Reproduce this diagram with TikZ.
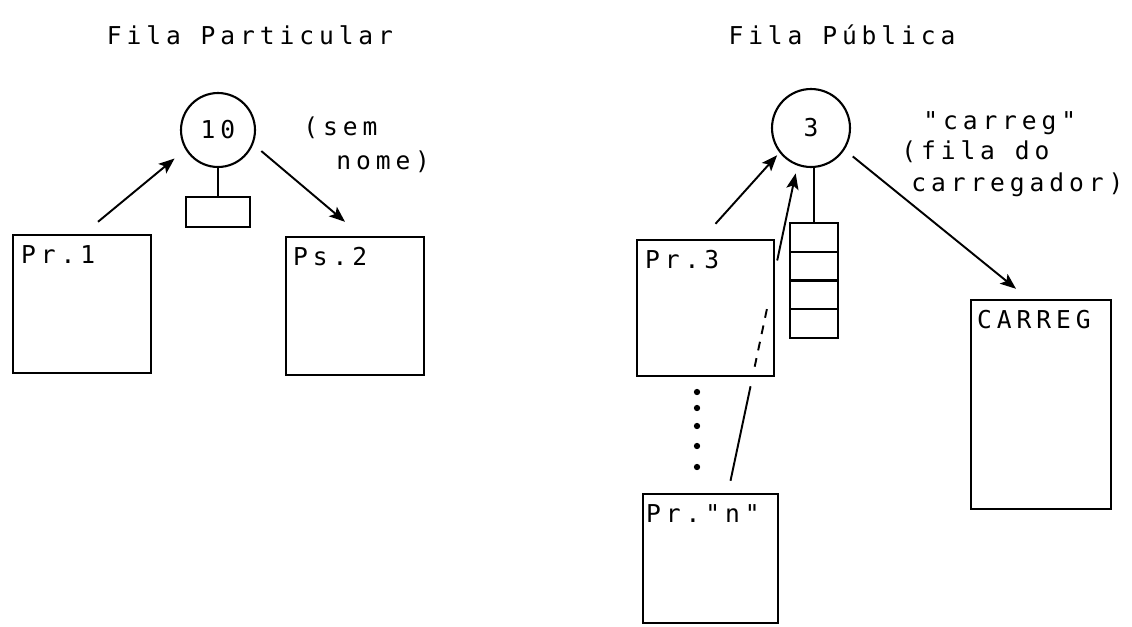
\documentclass[tikz,border=0pt]{standalone}
\usepackage{fontspec}
\newfontfamily\dotfont[LetterSpace=20]{DejaVu Sans Mono}
\usetikzlibrary{arrows.meta, positioning, calc}

\begin{document}
\begin{tikzpicture}[x=0.02cm,y=-0.02cm,
    font=\dotfont\fontsize{14}{16}\selectfont,
    every node/.style={inner sep=0pt},
    box/.style={draw, line width=1.4pt},
    fila/.style={draw, circle, line width=1.2pt},
    cell/.style={draw, line width=1.2pt, minimum width=0.96cm, minimum height=0.575cm},
    boxlabel/.style={anchor=base west},
    arr/.style={line width=1.1pt, -{Stealth[length=9pt,width=7pt,inset=2pt]}}]
    \useasboundingbox (0,0) rectangle (1132,626);
    % titulos
    \node (tpart) at (250,35) {Fila Particular};
    \node (tpub) at (842,35) {Fila Pública};
    % fila particular
    \node[fila, minimum size=1.48cm] (f10) at (218,130) {10};
    \node[box, minimum width=1.28cm, minimum height=0.6cm] (msg10) at (218,212) {};
    \node[box, minimum width=2.76cm, minimum height=2.76cm] (pr1) at (82,304) {};
    \node[box, minimum width=2.76cm, minimum height=2.76cm] (ps2) at (355,306) {};
    \node[boxlabel] (lpr1) at ([shift={(9,30)}]pr1.north west) {Pr.1};
    \node[boxlabel] (lps2) at ([shift={(8,30)}]ps2.north west) {Ps.2};
    \node[anchor=west] (sem) at (303,128) {(sem};
    \node[anchor=west] (nome) at (336,162) {nome)};
    \draw[line width=1.2pt] (f10) -- (msg10);
    \draw[arr, shorten >=8pt] ([shift={(16,-12)}]pr1.north) -- (f10.211);
    \draw[arr, shorten <=6pt] (f10.338) -- ([shift={(-10,-14)}]ps2.north);
    % fila publica
    \node[fila, minimum size=1.56cm] (f3) at (811,128) {3};
    \foreach \i in {1,...,4}
        \node[cell] (q\i) at (814,{208.6+28.75*\i}) {};
    \node[box, minimum width=2.74cm, minimum height=2.72cm] (pr3) at (705.5,308) {};
    \node[box, minimum width=2.70cm, minimum height=2.58cm] (prn) at (710.5,558.5) {};
    \node[box, minimum width=2.80cm, minimum height=4.18cm] (carreg) at (1041,404.5) {};
    \node[boxlabel] (lpr3) at ([shift={(9,30)}]pr3.north west) {Pr.3};
    \node[boxlabel] (lprn) at ([shift={(4,30)}]prn.north west) {Pr."n"};
    \node[boxlabel] (lcarreg) at ([shift={(7,30)}]carreg.north west) {CARREG};
    \node[anchor=west] (nomec) at (923,123) {"carreg"};
    \node[anchor=west] (filac) at (901,152) {(fila do};
    \node[anchor=west] (carregador) at (911,185) {carregador)};
    \draw[line width=1.2pt] (q1.north) -- (q1.north |- f3.south);
    \draw[arr, shorten >=2pt] ([shift={(10,-15)}]pr3.north) -- (f3.218);
    \coordinate (ntop) at ([shift={(20,-12)}]prn.north);
    \draw[line width=1.1pt] (ntop) -- ($(ntop)!0.30!(f3.250)$);
    \draw[line width=1.1pt, dash pattern=on 5pt off 4.5pt] ($(ntop)!0.362!(f3.250)$) -- ($(ntop)!0.558!(f3.250)$);
    \draw[arr, shorten >=4.5pt] ($(ntop)!0.699!(f3.250)$) -- (f3.250);
    \draw[arr, shorten <=6pt] (f3.327) -- ([shift={(-25,-10)}]carreg.north);
    \foreach \y in {392,408,426,446,467}
        \fill (697,\y) circle (1.8pt);
\end{tikzpicture}
\end{document}
